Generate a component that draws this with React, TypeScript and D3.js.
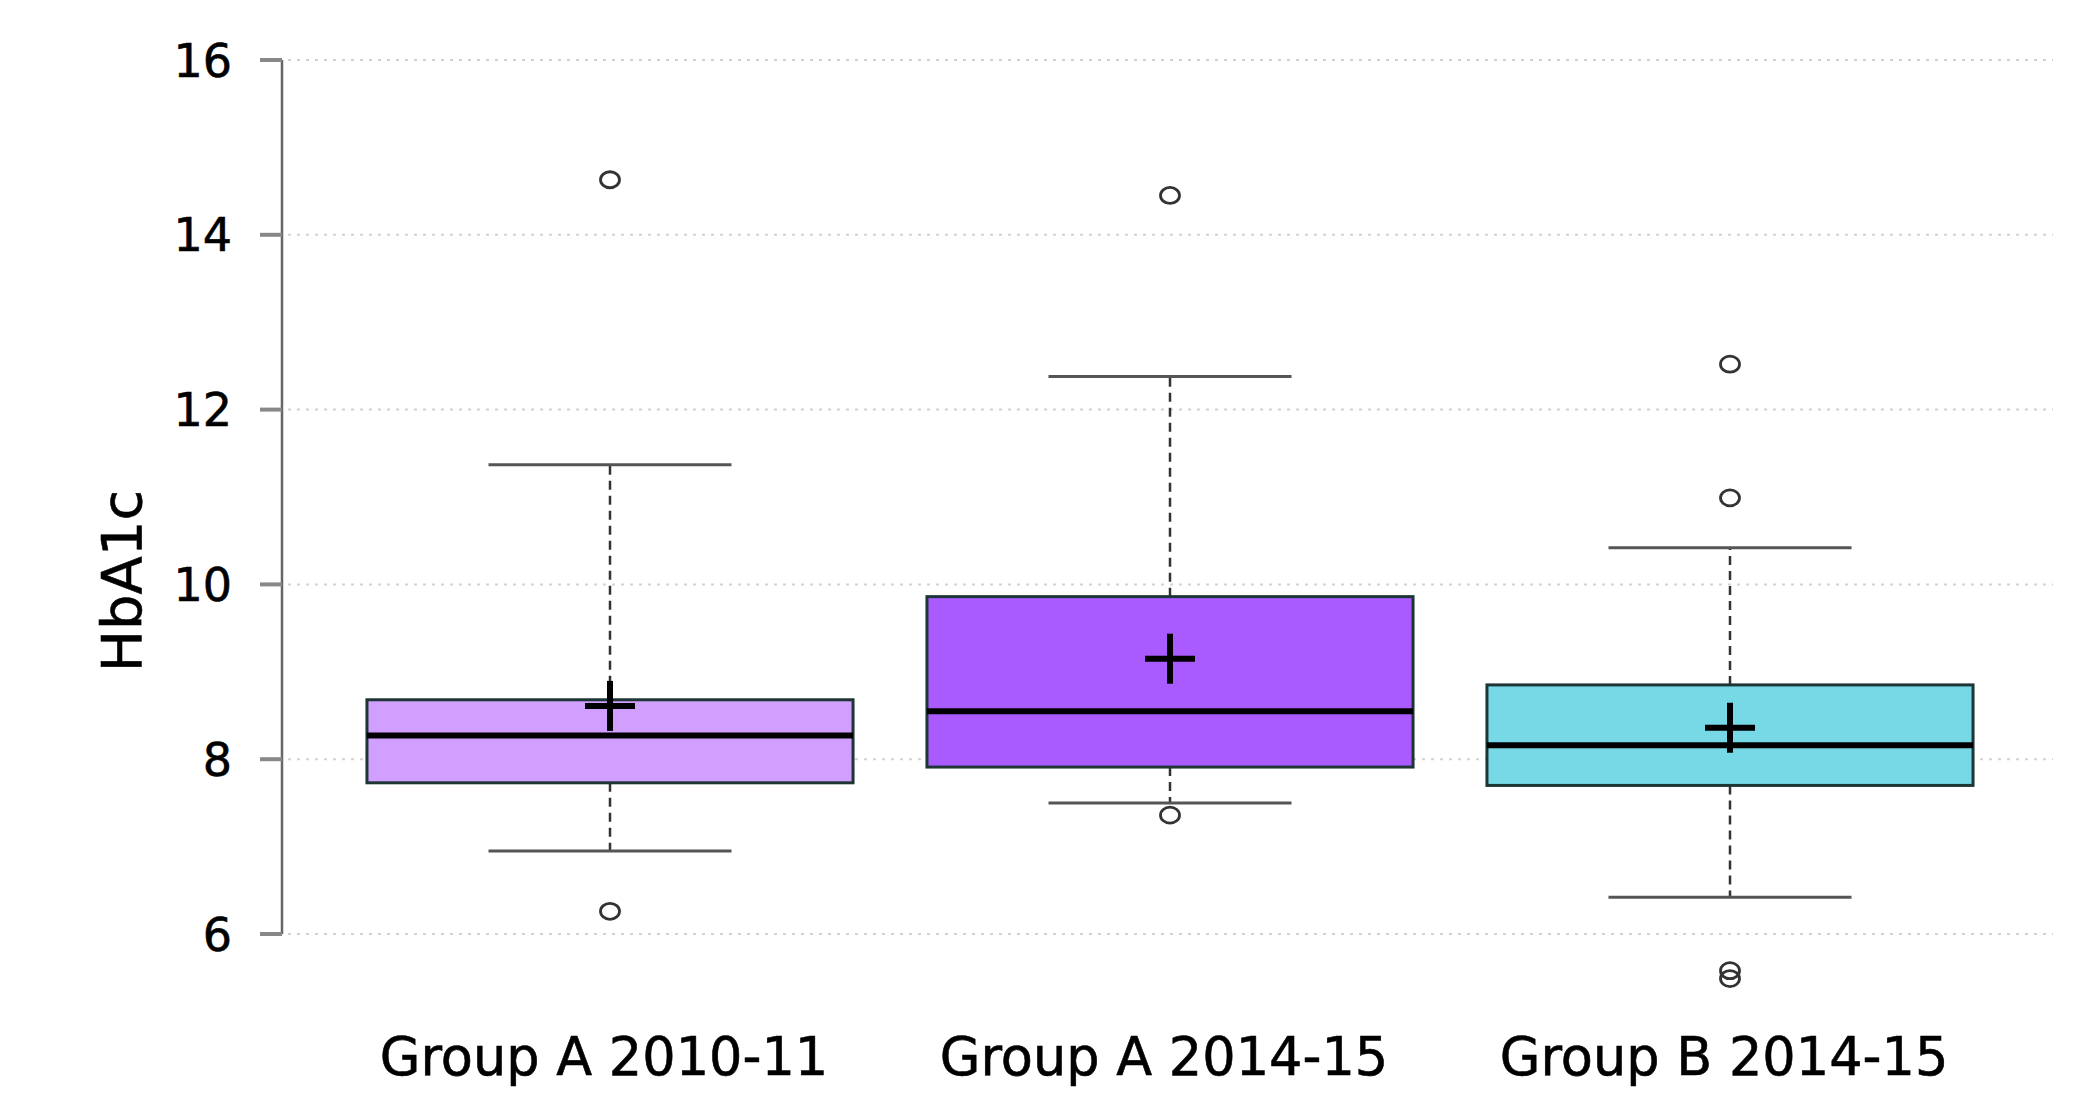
import * as d3 from "d3";

// HbA1c distribution per group
const categories = ["Group A 2010-11", "Group A 2014-15", "Group B 2014-15"];
const q1 = [7.73, 7.91, 7.7];
const medians = [8.27, 8.55, 8.16];
const q3 = [8.68, 9.86, 8.85];
const whiskerLow = [6.95, 7.5, 6.42];
const whiskerHigh = [11.37, 12.38, 10.42];
const means = [8.61, 9.15, 8.36];
const outliers = [
  [14.63, 6.26],
  [14.45, 7.36],
  [12.52, 10.99, 5.58, 5.49],
];
const fills = ["#d09fff", "#a95bff", "#77d8e6"];
const yTicks = [6, 8, 10, 12, 14, 16];

const W = 2099;
const H = 1097;
const FONT = "'DejaVu Sans', sans-serif";

export default function App() {
  const plotLeft = 282;
  const plotRight = 2053;
  const y = d3.scaleLinear().domain([6, 16]).range([934, 60]);
  const x = d3.scalePoint<string>().domain(categories).range([610, 1730]);
  const boxW = x.step() * 0.868;
  const capW = boxW / 2;
  const cross = 25;

  return (
    <svg
      width={W}
      height={H}
      style={{ position: "absolute", left: 0, top: 0, background: "#fff" }}
      fontFamily={FONT}
    >
      {/* grid */}
      {yTicks.map((t) => (
        <line
          key={"g" + t}
          x1={plotLeft + 6}
          x2={plotRight}
          y1={y(t)}
          y2={y(t)}
          stroke="#d2d2d2"
          strokeWidth={2}
          strokeDasharray="3,6"
        />
      ))}

      {/* y axis */}
      <line x1={plotLeft} x2={plotLeft} y1={y(16)} y2={y(6)} stroke="#666" strokeWidth={2.5} />
      {yTicks.map((t) => (
        <g key={"t" + t}>
          <line x1={plotLeft - 22} x2={plotLeft} y1={y(t)} y2={y(t)} stroke="#888" strokeWidth={4} />
          <text
            x={232}
            y={y(t)}
            dy="0.36em"
            textAnchor="end"
            fontSize={46}
            fill="#000"
            stroke="#000"
            strokeWidth={0.6}
          >
            {t}
          </text>
        </g>
      ))}
      <text
        transform="translate(141,581) rotate(-90)"
        textAnchor="middle"
        fontSize={56}
        fill="#000"
        stroke="#000"
        strokeWidth={0.6}
      >
        HbA1c
      </text>

      {/* boxes */}
      {categories.map((c, i) => {
        const cx = x(c) as number;
        return (
          <g key={c}>
            <line x1={cx} x2={cx} y1={y(q3[i])} y2={y(whiskerHigh[i])} stroke="#333" strokeWidth={2.5} strokeDasharray="9,6" />
            <line x1={cx} x2={cx} y1={y(q1[i])} y2={y(whiskerLow[i])} stroke="#333" strokeWidth={2.5} strokeDasharray="9,6" />
            <line x1={cx - capW / 2} x2={cx + capW / 2} y1={y(whiskerHigh[i])} y2={y(whiskerHigh[i])} stroke="#555" strokeWidth={3} />
            <line x1={cx - capW / 2} x2={cx + capW / 2} y1={y(whiskerLow[i])} y2={y(whiskerLow[i])} stroke="#555" strokeWidth={3} />
            <rect
              x={cx - boxW / 2}
              y={y(q3[i])}
              width={boxW}
              height={y(q1[i]) - y(q3[i])}
              fill={fills[i]}
              stroke="#1d3535"
              strokeWidth={3}
            />
            <line x1={cx - boxW / 2} x2={cx + boxW / 2} y1={y(medians[i])} y2={y(medians[i])} stroke="#000" strokeWidth={6} />
            <line x1={cx - cross} x2={cx + cross} y1={y(means[i])} y2={y(means[i])} stroke="#000" strokeWidth={6} />
            <line x1={cx} x2={cx} y1={y(means[i]) - cross} y2={y(means[i]) + cross} stroke="#000" strokeWidth={6} />
            {outliers[i].map((v, k) => (
              <ellipse key={k} cx={cx} cy={y(v)} rx={9.5} ry={8} fill="none" stroke="#333" strokeWidth={2.8} />
            ))}
            <text
              x={cx - 6}
              y={1075}
              textAnchor="middle"
              fontSize={52.5}
              fill="#000"
              stroke="#000"
              strokeWidth={0.6}
            >
              {c}
            </text>
          </g>
        );
      })}
    </svg>
  );
}
